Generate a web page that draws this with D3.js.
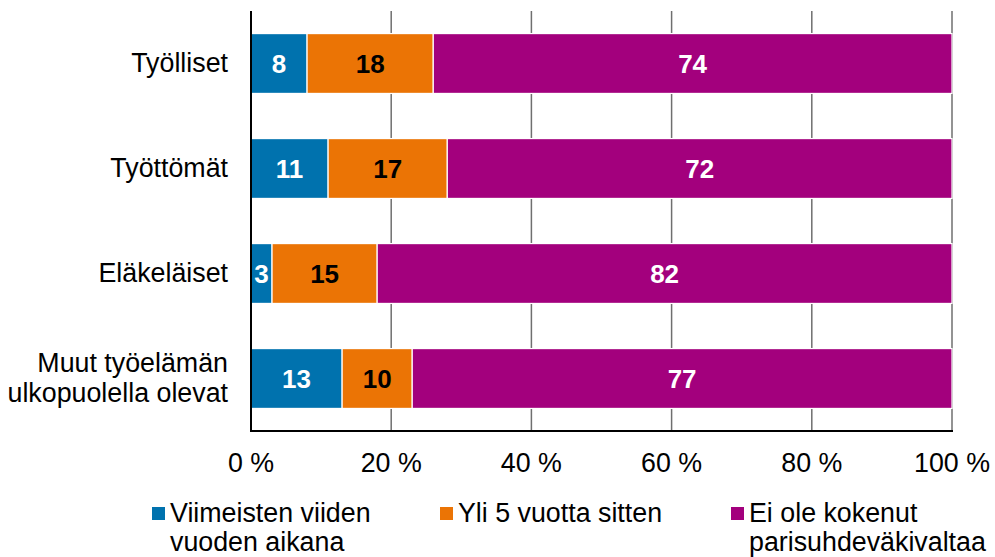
<!DOCTYPE html>
<html><head><meta charset="utf-8">
<script src="https://cdn.jsdelivr.net/npm/d3@7"></script>
<style>body{margin:0;background:#fff;} svg{display:block;font-family:"Liberation Sans",Arial,sans-serif;}</style>
</head><body><svg id="c" width="995" height="557"></svg>
<script>
const categories = [["Työlliset"], ["Työttömät"], ["Eläkeläiset"], ["Muut työelämän", "ulkopuolella olevat"]];
const seriesNames = [["Viimeisten viiden", "vuoden aikana"], ["Yli 5 vuotta sitten"], ["Ei ole kokenut", "parisuhdeväkivaltaa"]];
const recent = [8, 11, 3, 13];
const older = [18, 17, 15, 10];
const never = [74, 72, 82, 77];
const ticks = [0, 20, 40, 60, 80, 100];
const tickLabels = ["0 %", "20 %", "40 %", "60 %", "80 %", "100 %"];
const colors = ["#0072ae", "#eb7405", "#a3007d"];
const labelColors = ["#fff", "#000", "#fff"];
const FS = 26.8;

const svg = d3.select("#c");
const x = d3.scaleLinear().domain([0, 100]).range([251, 952]);
const y = d3.scaleBand().domain(d3.range(categories.length)).range([11, 431]).paddingInner(0.43).paddingOuter(0.215);

// gridlines
svg.append("g").selectAll("line").data(ticks.slice(1)).join("line")
  .attr("x1", d => x(d)).attr("x2", d => x(d)).attr("y1", 11).attr("y2", 431)
  .attr("stroke", "#6f6f6f").attr("stroke-width", 1.5);

const series = [recent, older, never];
const stacked = categories.map((c, i) => {
  let acc = 0;
  return series.map((s, k) => { const o = {i, k, v: s[i], x0: acc, x1: acc + s[i]}; acc += s[i]; return o; });
}).flat();

svg.append("g").selectAll("rect").data(stacked).join("rect")
  .attr("x", d => x(d.x0)).attr("width", d => x(d.x1) - x(d.x0))
  .attr("y", d => y(d.i)).attr("height", y.bandwidth())
  .attr("fill", d => colors[d.k]).attr("stroke", "#fff").attr("stroke-width", 1.2);

svg.append("g").selectAll("text").data(stacked).join("text")
  .attr("x", d => (x(d.x0) + x(d.x1)) / 2)
  .attr("y", d => y(d.i) + y.bandwidth() / 2 + 9.5)
  .attr("text-anchor", "middle").attr("font-weight", "bold").attr("font-size", 26)
  .attr("fill", d => labelColors[d.k]).text(d => d.v);

// axes
svg.append("line").attr("x1", x(0)).attr("x2", x(0)).attr("y1", 11).attr("y2", 432).attr("stroke", "#000").attr("stroke-width", 2);
svg.append("line").attr("x1", x(0) - 1).attr("x2", x(100) + 1).attr("y1", 431).attr("y2", 431).attr("stroke", "#000").attr("stroke-width", 2);

// tick labels
svg.append("g").selectAll("text").data(ticks).join("text")
  .attr("x", d => x(d)).attr("y", 472).attr("text-anchor", "middle").attr("font-size", FS).attr("fill", "#000")
  .text((d, i) => tickLabels[i]);

// category labels
const cl = svg.append("g").selectAll("text").data(categories).join("text")
  .attr("text-anchor", "end").attr("font-size", FS).attr("fill", "#000");
cl.each(function(lines, i) {
  const cy = y(i) + y.bandwidth() / 2;
  d3.select(this).selectAll("tspan").data(lines).join("tspan")
    .attr("x", 228).attr("y", (l, j) => cy + (j - (lines.length - 1) / 2) * 30 + 8.5).text(l => l);
});

// legend
const legX = [152, 440, 731];
const lg = svg.append("g").selectAll("g").data(seriesNames).join("g");
lg.append("rect").attr("x", (d, i) => legX[i]).attr("y", 507).attr("width", 13).attr("height", 13).attr("fill", (d, i) => colors[i]);
lg.append("text").attr("font-size", FS).attr("fill", "#000").each(function(lines, i) {
  d3.select(this).selectAll("tspan").data(lines).join("tspan")
    .attr("x", legX[i] + 18).attr("y", (l, j) => 522 + j * 29).text(l => l);
});
</script></body></html>
